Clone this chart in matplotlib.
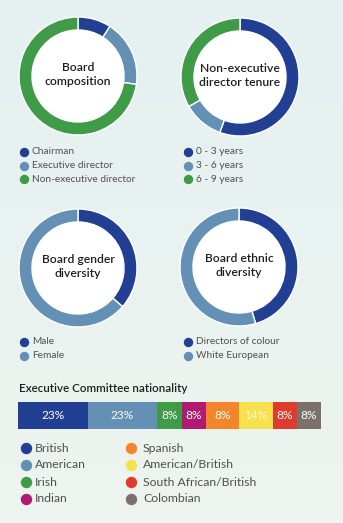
import numpy as np
import matplotlib
matplotlib.use("Agg")
import matplotlib.pyplot as plt

plt.rcParams['font.family'] = ['Lato', 'DejaVu Sans']

W, H = 343, 523

# donut data (counts, clockwise from 12 o'clock)
composition_labels = ["Chairman", "Executive director", "Non-executive director"]
composition_values = [1, 2, 8]
tenure_labels = ["0 - 3 years", "3 - 6 years", "6 - 9 years"]
tenure_values = [5, 1, 3]
gender_labels = ["Male", "Female"]
gender_values = [4, 7]
ethnic_labels = ["Directors of colour", "White European"]
ethnic_values = [5, 6]

# executive committee bar
nationality_labels = ["British", "American", "Irish", "Indian",
                      "Spanish", "American/British", "South African/British", "Colombian"]
nationality_widths = [23, 23, 8, 8, 11, 11, 8, 8]
nationality_text = ["23%", "23%", "8%", "8%", "8%", "14%", "8%", "8%"]

DARK_BLUE = "#213f93"
LIGHT_BLUE = "#6590b5"
GREEN = "#3f9b48"
nat_colors = [DARK_BLUE, LIGHT_BLUE, GREEN, "#b01a70", "#f3862a",
              "#f6e24e", "#e03b2f", "#7c706b"]
TEXT = "#1e1e1e"
GREY_TEXT = "#505050"

fig = plt.figure(figsize=(W / 100, H / 100), dpi=100)

# background gradient
bg = fig.add_axes([0, 0, 1, 1])
top = np.array(matplotlib.colors.to_rgb("#e4f1f1"))
bot = np.array(matplotlib.colors.to_rgb("#eef4ef"))
t = np.linspace(0, 1, 100)[:, None]
grad = (top * (1 - t) + bot * t)[:, None, :]
bg.imshow(grad, aspect='auto', extent=[0, W, H, 0])
bg.set_xlim(0, W)
bg.set_ylim(H, 0)
bg.axis('off')


def px_axes(x0, y0, w, h):
    # x0, y0 = top-left in pixels
    return fig.add_axes([x0 / W, 1 - (y0 + h) / H, w / W, h / H])


def donut(cx, cy, values, colors, title):
    r = 59
    ax = px_axes(cx - r, cy - r, 2 * r, 2 * r)
    ax.pie(values, colors=colors, startangle=90, counterclock=False,
           radius=1.0, wedgeprops=dict(width=0.22, edgecolor="white", linewidth=1.0))
    ax.add_patch(plt.Circle((0, 0), 0.78, color="white", zorder=0))
    ax.set_xlim(-1, 1)
    ax.set_ylim(-1, 1)
    ax.set_aspect('equal')
    ax.axis('off')
    ax.text(0, 0.03, title, ha='center', va='center', fontsize=8.7,
            color=TEXT, fontweight='semibold', linespacing=1.35)


def legend(x, y, labels, colors, step, size=7.3, diam=8, gap=8):
    for i, (lab, col) in enumerate(zip(labels, colors)):
        yy = y + i * step
        bg.scatter([x], [yy], s=(diam * 0.72) ** 2, color=col, zorder=3)
        bg.text(x + gap, yy, lab, color=GREY_TEXT,
                fontsize=size, ha='left', va='center')


three = [DARK_BLUE, LIGHT_BLUE, GREEN]
two = [DARK_BLUE, LIGHT_BLUE]

donut(78, 76, composition_values, three, "Board\ncomposition")
donut(240, 77, tenure_values, three, "Non-executive\ndirector tenure")
donut(78, 268, gender_values, two, "Board gender\ndiversity")
donut(239, 267, ethnic_values, two, "Board ethnic\ndiversity")

legend(24, 152, composition_labels, three, 13.7)
legend(188, 152, tenure_labels, three, 13.7)
legend(24, 342, gender_labels, two, 13.7)
legend(188, 342, ethnic_labels, two, 13.7)

# executive committee nationality
bg.text(19, 388, "Executive Committee nationality", fontsize=8.4,
        color=TEXT, fontweight='semibold', ha='left', va='center')

bax = px_axes(18, 402, 303, 27)
left = 0
for wv, col, txt in zip(nationality_widths, nat_colors, nationality_text):
    bax.barh(0, wv, left=left, color=col, height=1.0)
    bax.text(left + wv / 2, 0, txt, color="white", ha='center', va='center',
             fontsize=8.6, alpha=0.75 if col == "#f6e24e" else 1.0)
    left += wv
bax.set_xlim(0, left)
bax.set_ylim(-0.5, 0.5)
bax.axis('off')

legend(26, 448, nationality_labels[:4], nat_colors[:4], 17, size=8.8, diam=10, gap=9)
legend(131, 448, nationality_labels[4:], nat_colors[4:], 17, size=8.8, diam=10, gap=12)

fig.savefig("out.png", dpi=100)
